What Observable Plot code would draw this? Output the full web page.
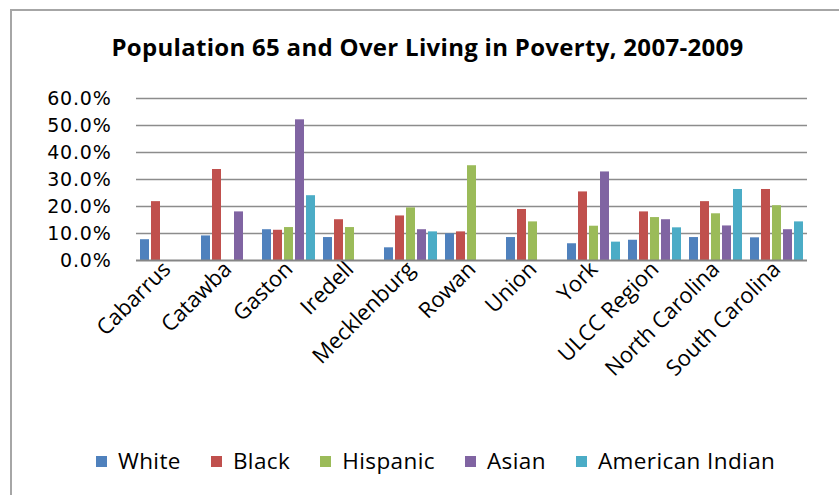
<!DOCTYPE html>
<html>
<head>
<meta charset="utf-8">
<script src="https://cdn.jsdelivr.net/npm/d3@7"></script>
<script src="https://cdn.jsdelivr.net/npm/@observablehq/plot@0.6"></script>
<style>
  html, body { margin: 0; padding: 0; background: #fff; }
  body { width: 839px; height: 495px; position: relative; overflow: hidden; font-family: "Open Sans", Lato, sans-serif; }
  #frame { position: absolute; left: 10px; top: 9px; width: 900px; height: 600px; border: 2px solid #a6a6a6; box-sizing: border-box; }
  #title { position: absolute; left: 0; width: 855px; top: 32px; text-align: center; font-weight: bold; font-size: 24px; line-height: 30px; color: #000; letter-spacing: 0.3px; }
  #chart { position: absolute; left: 0; top: 80px; }
  #chart svg [aria-label^="y-axis"] text { font-family: "DejaVu Sans", sans-serif; font-size: 19px; letter-spacing: 0.8px; }
  #legend { position: absolute; left: 96px; top: 446px; display: flex; align-items: center; font-size: 22.5px; line-height: 30px; color: #000; letter-spacing: 0.4px; }
  #legend .item { display: flex; align-items: center; margin-right: 30px; }
  #legend .sw { width: 11px; height: 11px; margin-right: 11px; }
</style>
</head>
<body>
<div id="frame"></div>
<div id="title">Population 65 and Over Living in Poverty, 2007-2009</div>
<div id="chart"></div>
<div id="legend"></div>
<script>
const categories = ["Cabarrus", "Catawba", "Gaston", "Iredell", "Mecklenburg", "Rowan", "Union", "York", "ULCC Region", "North Carolina", "South Carolina"];
const seriesNames = ["White", "Black", "Hispanic", "Asian", "American Indian"];
const seriesColors = ["#4F81BD", "#C0504D", "#9BBB59", "#8064A2", "#4BACC6"];
const white    = [7.7, 9.1, 11.4, 8.5, 4.7, 9.9, 8.5, 6.2, 7.5, 8.5, 8.4];
const black    = [21.8, 33.7, 11.2, 15.1, 16.5, 10.6, 18.9, 25.4, 18.0, 21.8, 26.3];
const hispanic = [null, null, 12.2, 12.2, 19.5, 35.1, 14.3, 12.7, 15.9, 17.3, 20.3];
const asian    = [null, 18.0, 52.1, null, 11.4, null, null, 32.8, 15.1, 12.8, 11.4];
const amIndian = [null, null, 24.0, null, 10.6, null, null, 6.8, 12.1, 26.3, 14.3];
const yTicks = [0, 10, 20, 30, 40, 50, 60];

const seriesValues = [white, black, hispanic, asian, amIndian];
const rows = [];
categories.forEach((c, i) => {
  seriesNames.forEach((s, j) => {
    const v = seriesValues[j][i];
    if (v != null) rows.push({category: c, series: s, value: v});
  });
});

const chart = Plot.plot({
  width: 839,
  height: 340,
  marginTop: 18,
  marginBottom: 160,
  marginLeft: 131,
  marginRight: 28,
  style: {fontFamily: "'Open Sans', Lato, sans-serif", fontSize: "22px", color: "#000", background: "transparent"},
  fx: {domain: categories, padding: 0, label: null, tickRotate: -45, tickSize: 0, tickPadding: 5},
  x: {domain: seriesNames, paddingInner: 0.18, paddingOuter: 0.23, axis: null},
  y: {domain: [0, 60], ticks: yTicks, tickFormat: d => d.toFixed(1) + "%", label: null, tickSize: 0, tickPadding: 25},
  color: {domain: seriesNames, range: seriesColors},
  marks: [
    Plot.ruleY(yTicks.filter(d => d > 0), {stroke: "#8c8c8c", strokeWidth: 1.7}),
    Plot.barY(rows, {fx: "category", x: "series", y: "value", fill: "series"}),
    Plot.ruleY([0], {stroke: "#868686", strokeWidth: 2})
  ]
});
document.getElementById("chart").appendChild(chart);

const legend = document.getElementById("legend");
seriesNames.forEach((s, i) => {
  const item = document.createElement("div");
  item.className = "item";
  const sw = document.createElement("div");
  sw.className = "sw";
  sw.style.background = seriesColors[i];
  const t = document.createElement("span");
  t.textContent = s;
  item.appendChild(sw);
  item.appendChild(t);
  legend.appendChild(item);
});
</script>
</body>
</html>
